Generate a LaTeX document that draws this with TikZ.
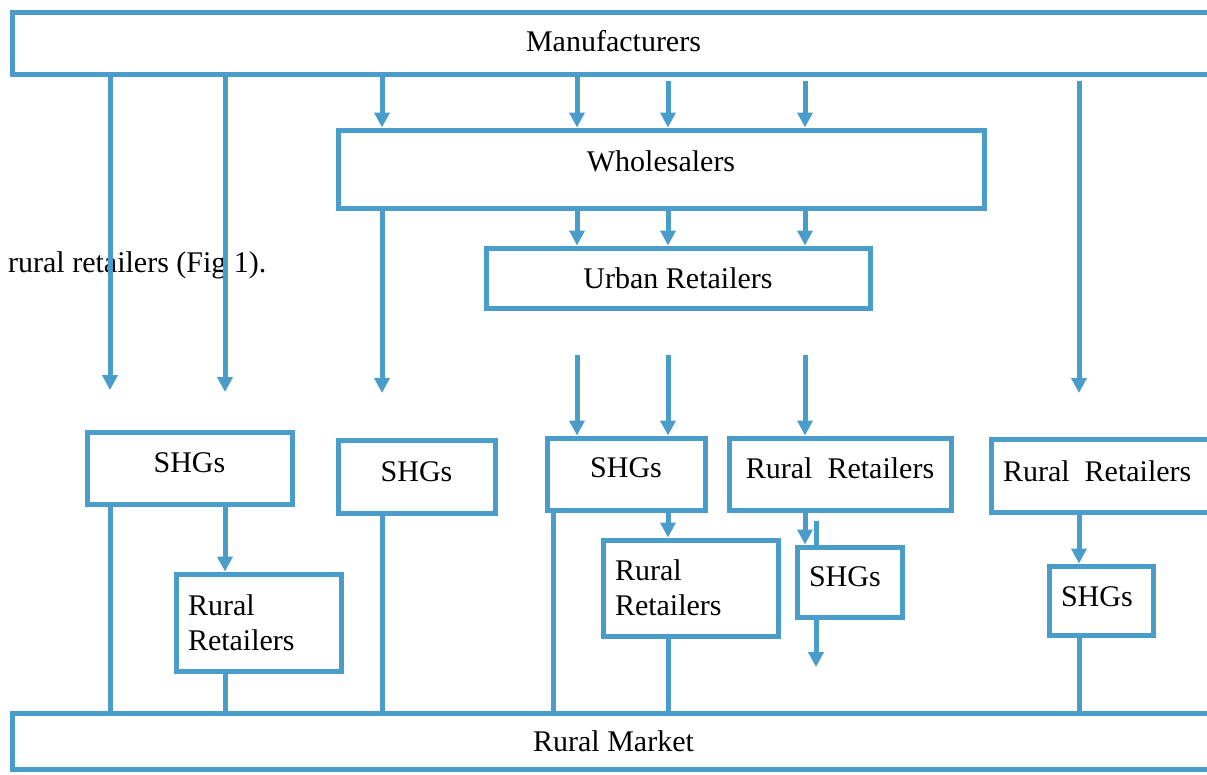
\documentclass[tikz,border=0pt]{standalone}
\usepackage{fontspec}
\setmainfont{Liberation Serif}
\usetikzlibrary{arrows.meta}
\definecolor{chainblue}{RGB}{74,157,203}
\tikzset{
	chainbox/.style={draw=chainblue, line width=5pt, inner sep=0pt, font=\fontsize{30}{35}\selectfont},
	leftbox/.style={chainbox, inner xsep=12pt, align=left},
	lift/.style={text depth=#1},
	flow/.style={draw=chainblue, line width=5pt, -{Triangle[width=15pt,length=15pt]}},
	feed/.style={draw=chainblue, line width=5pt},
}
\begin{document}
\begin{tikzpicture}[x=1pt, y=-1pt]
			    \useasboundingbox (0,0) rectangle (1207,774);
			    \clip (0,0) rectangle (1207,774);
			    \node [anchor=base west, inner sep=0pt, font=\fontsize{30}{35}\selectfont] at (8,272) (figtext) {rural retailers (Fig 1).};
			    
			    \node [chainbox, minimum width=1203pt, minimum height=62pt, lift=4pt] at (613.5,43) (man) {Manufacturers};
			    \node [chainbox, minimum width=646pt, minimum height=78pt, lift=16pt] at (661,169) (whole) {Wholesalers};
			    \node [chainbox, minimum width=384pt, minimum height=60pt] at (678,278) (urban) {Urban Retailers};
			    
			    \node [chainbox, minimum width=205pt, minimum height=72pt, lift=10pt] at (189.5,468) (shgA) {SHGs};
			    \node [chainbox, minimum width=157pt, minimum height=73pt, lift=10pt] at (416.5,476.5) (shgB) {SHGs};
			    \node [chainbox, minimum width=158pt, minimum height=72pt, lift=12pt] at (626,474) (shgC) {SHGs};
			    \node [chainbox, minimum width=222pt, minimum height=72pt, lift=12pt] at (840,474) (rrC) {Rural\hspace{15pt}Retailers};
			    \node [leftbox, text width=210pt, minimum height=73pt, lift=8pt] at (1108,475.5) (rrD) {Rural\hspace{15pt}Retailers};
			    
			    \node [leftbox, text width=141pt, minimum height=97pt] at (258.5,622.5) (rrA) {Rural\\Retailers};
			    \node [leftbox, text width=151pt, minimum height=96pt] at (690.5,588) (rrB) {Rural\\Retailers};
			    \node [leftbox, text width=81pt, minimum height=70pt, lift=10pt] at (849.5,582) (shgD) {SHGs};
			    \node [leftbox, text width=80pt, minimum height=69pt, lift=8pt] at (1101,600.5) (shgE) {SHGs};
			    
			    \node [chainbox, minimum width=1203pt, minimum height=56pt] at (613.5,741) (market) {Rural Market};
			    
			    \coordinate (colA) at (110,0);
			    \coordinate (colB) at (225,0);
			    \coordinate (colC) at (382,0);
			    \coordinate (colD) at (577,0);
			    \coordinate (colE) at (668,0);
			    \coordinate (colF) at (805,0);
			    \coordinate (colG) at (1079,0);
			    \coordinate (colH) at (553,0);
			    \coordinate (endA) at (110,390);
			    \coordinate (endB) at (225,392);
			    \coordinate (endC) at (382,393);
			    \coordinate (endG) at (1079,393);
			    \coordinate (tailD) at (577,355);
			    \coordinate (tailE) at (668,355);
			    \coordinate (tailF) at (805,355);
			    \coordinate (stub) at (816,521);
			    \coordinate (endS) at (816,667);
			    
			    \draw [flow] (man.south -| colA) -- (endA);
			    \draw [flow] (man.south -| colB) -- (endB);
			    \draw [flow] (man.south -| colC) -- (whole.north -| colC);
			    \draw [flow] (man.south -| colD) -- (whole.north -| colD);
			    \draw [flow] ([yshift=-4pt]man.south -| colE) -- (whole.north -| colE);
			    \draw [flow] ([yshift=-4pt]man.south -| colF) -- (whole.north -| colF);
			    \draw [flow] ([yshift=-4pt]man.south -| colG) -- (endG);
			    \draw [flow] (whole.south -| colC) -- (endC);
			    \foreach \col in {colD,colE,colF}
			        \draw [flow] (whole.south -| \col) -- (urban.north -| \col);
			    
			    \draw [flow] (tailD) -- (shgC.north -| tailD);
			    \draw [flow] (tailE) -- (shgC.north -| tailE);
			    \draw [flow] (tailF) -- (rrC.north -| tailF);
			    \draw [flow] (shgA.south -| colB) -- (rrA.north -| colB);
			    \draw [flow] (shgC.south -| colE) -- (rrB.north -| colE);
			    \draw [flow] (rrC.south -| colF) -- (shgD.north -| colF);
			    \draw [feed] (stub) -- (shgD.north -| stub);
			    \draw [flow] (shgD.south -| stub) -- (endS);
			    \draw [flow] (rrD.south -| colG) -- (shgE.north -| colG);
			    
			    \draw [feed] (shgA.south -| colA) -- (market.north -| colA);
			    \draw [feed] (rrA.south -| colB) -- (market.north -| colB);
			    \draw [feed] (shgB.south -| colC) -- (market.north -| colC);
			    \draw [feed] (shgC.south -| colH) -- (market.north -| colH);
			    \draw [feed] (rrB.south -| colE) -- (market.north -| colE);
			    \draw [feed] (shgE.south -| colG) -- (market.north -| colG);
\end{tikzpicture}
\end{document}
